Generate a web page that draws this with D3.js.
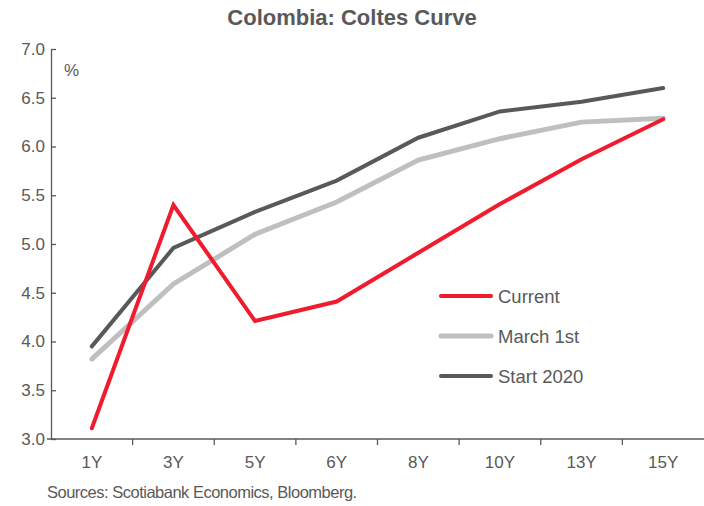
<!DOCTYPE html>
<html>
<head>
<meta charset="utf-8">
<script src="https://cdn.jsdelivr.net/npm/d3@7"></script>
<style>
  body { margin: 0; background: #fff; }
  svg text { font-family: "Liberation Sans", Arial, sans-serif; fill: #595959; }
</style>
</head>
<body>
<svg id="chart" width="704" height="506"></svg>
<script>
const categories = ["1Y", "3Y", "5Y", "6Y", "8Y", "10Y", "13Y", "15Y"];
const current   = [3.11, 5.40, 4.21, 4.41, 4.91, 5.41, 5.87, 6.28];
const march1st  = [3.82, 4.59, 5.10, 5.43, 5.86, 6.08, 6.25, 6.29];
const start2020 = [3.95, 4.96, 5.33, 5.65, 6.09, 6.36, 6.46, 6.60];
const yTicks = [3.0, 3.5, 4.0, 4.5, 5.0, 5.5, 6.0, 6.5, 7.0];
const seriesNames = ["Current", "March 1st", "Start 2020"];
const colors = ["#EE1C2E", "#BFBFBF", "#595959"];

const series = [
  { name: seriesNames[0], values: current, color: colors[0] },
  { name: seriesNames[1], values: march1st, color: colors[1] },
  { name: seriesNames[2], values: start2020, color: colors[2] }
];

const svg = d3.select("#chart");
const mLeft = 51, mRight = 704, mTop = 49, mBottom = 439;

const x = d3.scaleBand().domain(categories).range([mLeft, mRight]);
const y = d3.scaleLinear().domain([3, 7]).range([mBottom, mTop]);

// title
svg.append("text").attr("x", 352).attr("y", 25).attr("text-anchor", "middle")
  .style("font-size", "22px").style("font-weight", "bold").text("Colombia:  Coltes Curve");

// y axis (ticks point inward)
const yAxis = svg.append("g").attr("transform", `translate(${mLeft},0)`)
  .call(d3.axisLeft(y).tickValues(yTicks).tickFormat(d3.format(".1f")).tickSizeInner(-5).tickSizeOuter(0).tickPadding(6));
yAxis.select(".domain").attr("stroke", "#595959").attr("stroke-width", 1.3);
yAxis.selectAll(".tick line").attr("stroke", "#595959").attr("stroke-width", 1.3);
yAxis.selectAll(".tick text").style("font-size", "17px").style("fill", "#595959").attr("font-family", null);

// x axis
const xAxis = svg.append("g").attr("transform", `translate(0,${mBottom})`)
  .call(d3.axisBottom(x).tickSize(0).tickPadding(17));
xAxis.select(".domain").attr("d", `M${mLeft - 4},0H${mRight}`).attr("stroke", "#595959").attr("stroke-width", 1.3);
xAxis.selectAll(".tick text").style("font-size", "17px").style("fill", "#595959").attr("font-family", null);
xAxis.selectAll(".bound").data(categories.slice(1)).enter().append("line")
  .attr("class", "bound")
  .attr("x1", d => x(d)).attr("x2", d => x(d))
  .attr("y1", 0).attr("y2", 6)
  .attr("stroke", "#595959").attr("stroke-width", 1.3);

// % label
svg.append("text").attr("x", 64).attr("y", 76).style("font-size", "17px").text("%");

// lines
const line = d3.line()
  .x((d, i) => x(categories[i]) + x.bandwidth() / 2)
  .y(d => y(d));

[series[1], series[2], series[0]].forEach(s => {
  svg.append("path").datum(s.values)
    .attr("d", line)
    .attr("fill", "none")
    .attr("stroke", s.color)
    .attr("stroke-width", s.name === "March 1st" ? 5 : 4)
    .attr("stroke-linecap", "round")
    .attr("stroke-linejoin", "miter");
});

// legend
const legend = svg.append("g");
series.forEach((s, i) => {
  const ly = 296 + i * 40;
  legend.append("line").attr("x1", 441).attr("x2", 491).attr("y1", ly).attr("y2", ly)
    .attr("stroke", s.color).attr("stroke-width", s.name === "March 1st" ? 5 : 4)
    .attr("stroke-linecap", "round");
  legend.append("text").attr("x", 498).attr("y", ly + 6.5)
    .style("font-size", "18.5px").text(s.name);
});

// source
svg.append("text").attr("x", 47).attr("y", 498).style("font-size", "16.5px")
  .style("letter-spacing", "-0.5px")
  .text("Sources: Scotiabank Economics, Bloomberg.");
</script>
</body>
</html>
